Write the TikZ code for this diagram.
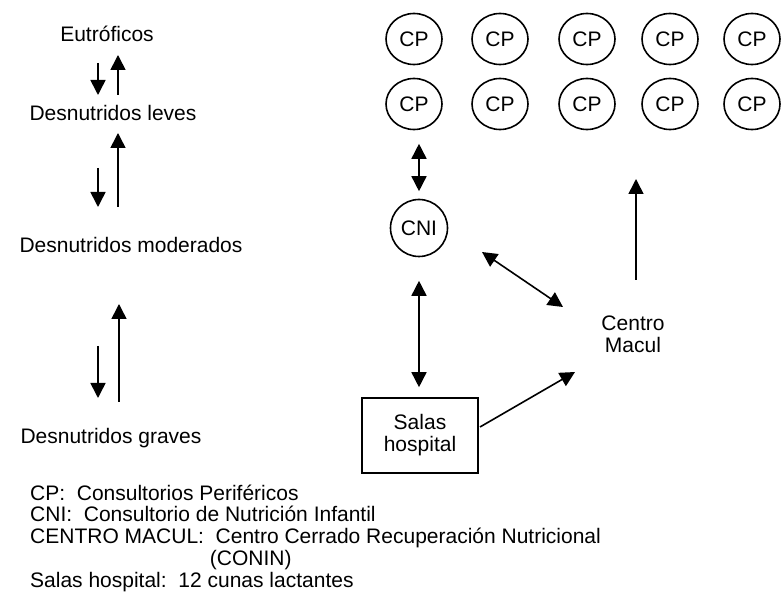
\documentclass[tikz,border=0pt]{standalone}
\usepackage{fontspec}
\setmainfont{Liberation Sans}
\usetikzlibrary{arrows.meta,shapes.geometric,calc}
\tikzset{
  lbl/.style={inner sep=0pt,font=\fontsize{21}{22}\selectfont},
  cpnode/.style={lbl,draw,line width=1.6pt,ellipse,minimum width=56pt,minimum height=51pt},
  boxnode/.style={lbl,draw,line width=1.6pt,minimum width=116pt,minimum height=75pt,align=center},
  arr/.style={line width=1.6pt,-{Triangle[length=15pt,width=15pt]}},
  dbl/.style={line width=1.6pt,{Triangle[length=15pt,width=15pt]}-{Triangle[length=15pt,width=15pt]}}
}
\begin{document}
\begin{tikzpicture}[x=1pt,y=-1pt]
\useasboundingbox (0,0) rectangle (782,601);
% left column
\node[lbl,anchor=base] (eut) at (107,42) {Eutróficos};
\node[lbl,anchor=base] (leves) at (113,121) {Desnutridos leves};
\node[lbl,anchor=base] (moder) at (131,253) {Desnutridos moderados};
\node[lbl,anchor=base] (graves) at (111,444) {Desnutridos graves};
\draw[arr] ($(eut.base)+(-9,21)$) -- ($(leves.base)+(-15,-26)$);
\draw[arr] ($(leves.base)+(5,-26)$) -- ($(eut.base)+(11,13)$);
\draw[arr] ($(leves.base)+(-15,47)$) -- ($(moder.base)+(-33,-46)$);
\draw[arr] ($(moder.base)+(-13,-46)$) -- ($(leves.base)+(5,12)$);
\draw[arr] ($(moder.base)+(-33,93)$) -- ($(graves.base)+(-13,-46)$);
\draw[arr] ($(graves.base)+(8,-42)$) -- ($(moder.base)+(-12,51)$);
% CP grid
\foreach \i/\x in {1/414,2/500,3/587,4/670,5/752}{
  \node[cpnode] (cp1\i) at (\x,39) {CP};
  \node[cpnode] (cp2\i) at (\x,104) {CP};
}
\node[cpnode,minimum width=57pt,minimum height=57pt] (cni) at (419,228) {CNI};
\node[boxnode] (salas) at (420,435.5) {Salas\\hospital};
\node[lbl,align=center] (macul) at (633,334) {Centro\\Macul};
% connectors
\draw[dbl,shorten <=13.5pt,shorten >=7.5pt] (cni.north |- cp21.south) -- (cni.north);
\draw[dbl,shorten <=23.5pt,shorten >=10pt] (cni.south) -- (cni.south |- salas.north);
\draw[dbl] ($(cni)+(63,24)$) -- ($(macul)+(-70,-27)$);
\draw[arr] ($(macul)+(3,-54)$) -- ($(macul)+(3,-155)$);
\draw[arr] ($(salas)+(60,-8.5)$) -- ($(macul)+(-58,38)$);
% legend
\node[lbl,anchor=base west] (leg1) at (30,500) {CP:\ \ Consultorios Periféricos};
\node[lbl,anchor=base west] (leg2) at (30,521.75) {CNI:\ \ Consultorio de Nutrición Infantil};
\node[lbl,anchor=base west] (leg3) at (30,543.5) {CENTRO MACUL:\ \ Centro Cerrado Recuperación Nutricional};
\node[lbl,anchor=base west] (leg4) at (30,565.25) {\phantom{CENTRO MACUL:\ }(CONIN)};
\node[lbl,anchor=base west] (leg5) at (30,587) {Salas hospital:\ \ 12 cunas lactantes};
\end{tikzpicture}
\end{document}
